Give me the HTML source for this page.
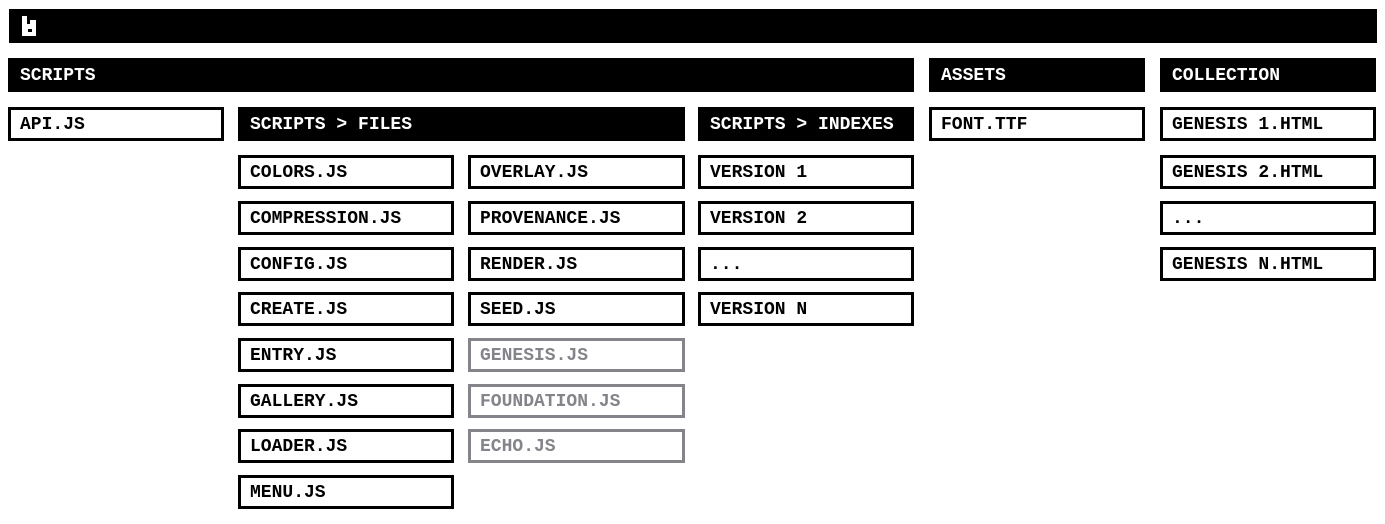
<!DOCTYPE html><html><head><style>
body{margin:0;width:1385px;height:524px;background:#fff;position:relative;overflow:hidden;font-family:"Liberation Mono",monospace;font-weight:bold;font-size:18px;}
.b{position:absolute;box-sizing:border-box;height:34px;line-height:30px;padding-left:9px;border:3px solid #000;color:#000;white-space:nowrap;letter-spacing:0px;}
.h{background:#000;color:#fff;}
.g{border-color:#85848a;color:#85848a;}
</style></head><body>
<div class="b h" style="left:9px;top:9px;width:1368px;"></div>
<svg style="position:absolute;left:22px;top:16px" width="18" height="20"><path d="M0 0h5v8h3v-4h6v16h-14z" fill="#fff"/><rect x="6" y="13" width="4" height="3" fill="#000"/></svg>
<div class="b h" style="left:8px;top:58px;width:906px;">SCRIPTS</div>
<div class="b h" style="left:929px;top:58px;width:216px;">ASSETS</div>
<div class="b h" style="left:1160px;top:58px;width:216px;">COLLECTION</div>
<div class="b" style="left:8px;top:107px;width:216px;">API.JS</div>
<div class="b h" style="left:238px;top:107px;width:447px;">SCRIPTS &gt; FILES</div>
<div class="b h" style="left:698px;top:107px;width:216px;">SCRIPTS &gt; INDEXES</div>
<div class="b" style="left:929px;top:107px;width:216px;">FONT.TTF</div>
<div class="b" style="left:1160px;top:107px;width:216px;">GENESIS 1.HTML</div>
<div class="b" style="left:1160px;top:155px;width:216px;">GENESIS 2.HTML</div>
<div class="b" style="left:1160px;top:201px;width:216px;">...</div>
<div class="b" style="left:1160px;top:247px;width:216px;">GENESIS N.HTML</div>
<div class="b" style="left:698px;top:155px;width:216px;">VERSION 1</div>
<div class="b" style="left:698px;top:201px;width:216px;">VERSION 2</div>
<div class="b" style="left:698px;top:247px;width:216px;">...</div>
<div class="b" style="left:698px;top:292px;width:216px;">VERSION N</div>
<div class="b" style="left:238px;top:155px;width:216px;">COLORS.JS</div>
<div class="b" style="left:238px;top:201px;width:216px;">COMPRESSION.JS</div>
<div class="b" style="left:238px;top:247px;width:216px;">CONFIG.JS</div>
<div class="b" style="left:238px;top:292px;width:216px;">CREATE.JS</div>
<div class="b" style="left:238px;top:338px;width:216px;">ENTRY.JS</div>
<div class="b" style="left:238px;top:384px;width:216px;">GALLERY.JS</div>
<div class="b" style="left:238px;top:429px;width:216px;">LOADER.JS</div>
<div class="b" style="left:238px;top:475px;width:216px;">MENU.JS</div>
<div class="b" style="left:468px;top:155px;width:217px;">OVERLAY.JS</div>
<div class="b" style="left:468px;top:201px;width:217px;">PROVENANCE.JS</div>
<div class="b" style="left:468px;top:247px;width:217px;">RENDER.JS</div>
<div class="b" style="left:468px;top:292px;width:217px;">SEED.JS</div>
<div class="b g" style="left:468px;top:338px;width:217px;">GENESIS.JS</div>
<div class="b g" style="left:468px;top:384px;width:217px;">FOUNDATION.JS</div>
<div class="b g" style="left:468px;top:429px;width:217px;">ECHO.JS</div>
</body></html>
